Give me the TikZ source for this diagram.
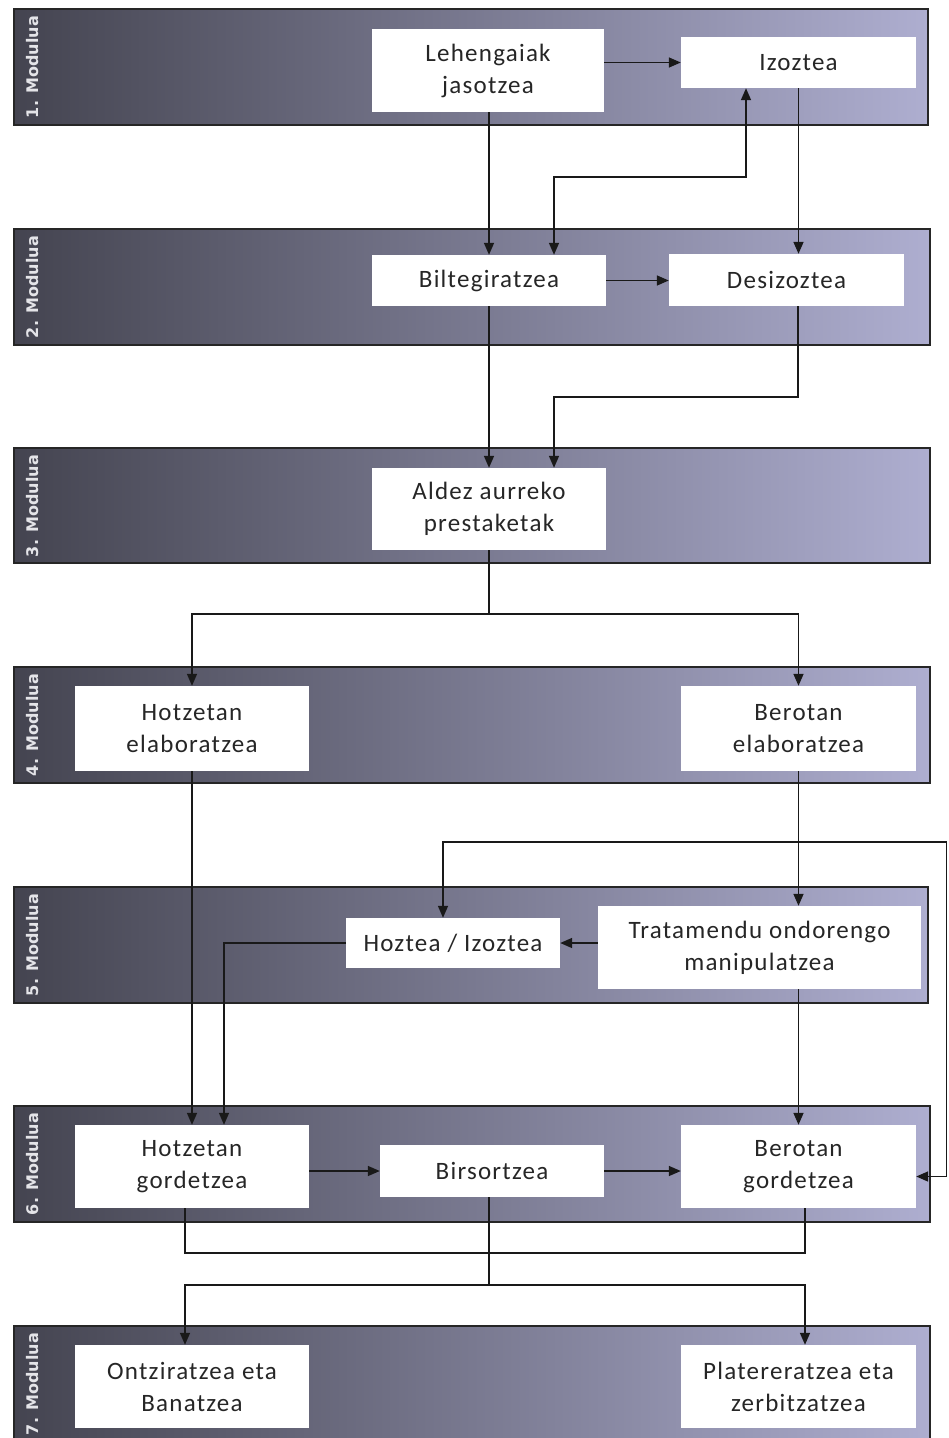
\documentclass[tikz,border=0pt]{standalone}
\usepackage{fontspec}
\setmainfont[LetterSpace=5]{Carlito}
\newfontfamily\modfont{DejaVu Sans}
\usetikzlibrary{arrows.meta,calc}
\definecolor{bandL}{RGB}{68,68,80}
\definecolor{bandR}{RGB}{174,174,208}
\definecolor{txt}{RGB}{38,38,38}
\definecolor{modtxt}{RGB}{228,228,232}
\tikzset{
  band/.style={left color=bandL,right color=bandR,draw=black!85,line width=1.2pt},
  box/.style={fill=white,inner sep=0pt,text=txt,font=\fontsize{25}{32}\selectfont,align=center},
  modlabel/.style={rotate=90,text=modtxt,font=\modfont\bfseries\fontsize{16}{18}\selectfont,inner sep=0pt},
  conn/.style={line width=1.6pt,draw=black!90},
  tip/.style={},
  arr/.style={conn,-{Triangle[length=12pt,width=10pt]}},
  darr/.style={conn,{Triangle[length=12pt,width=10pt]}-{Triangle[length=12pt,width=10pt]}}
}
\begin{document}
\begin{tikzpicture}[x=1pt,y=-1pt]
\useasboundingbox (0,0) rectangle (949,1438);
\fill[white] (0,0) rectangle (949,1438);
% bands
\draw[band] (14,9) rectangle (928,125);
\draw[band] (14,229) rectangle (930,345);
\draw[band] (14,448) rectangle (930,563);
\draw[band] (14,667) rectangle (930,783);
\draw[band] (14,887) rectangle (928,1003);
\draw[band] (14,1106) rectangle (930,1222);
\draw[band] (14,1326) rectangle (930,1450);
% module labels
\node[modlabel] (m1) at (33,67) {1. Modulua};
\node[modlabel] (m2) at (33,287) {2. Modulua};
\node[modlabel] (m3) at (33,506) {3. Modulua};
\node[modlabel] (m4) at (33,725) {4. Modulua};
\node[modlabel] (m5) at (33,945) {5. Modulua};
\node[modlabel] (m6) at (33,1164) {6. Modulua};
\node[modlabel] (m7) at (33,1384) {7. Modulua};
% boxes
\node[box,minimum width=232pt,minimum height=83pt] (n1) at (488,70.5) {Lehengaiak\\jasotzea};
\node[box,minimum width=235pt,minimum height=51pt] (n2) at (798.5,62.5) {Izoztea};
\node[box,minimum width=234pt,minimum height=51pt] (n3) at (489,280.5) {Biltegiratzea};
\node[box,minimum width=235pt,minimum height=52pt] (n4) at (786.5,280) {Desizoztea};
\node[box,minimum width=234pt,minimum height=82pt] (n5) at (489,509) {Aldez aurreko\\prestaketak};
\node[box,minimum width=234pt,minimum height=85pt] (n6) at (192,728.5) {Hotzetan\\elaboratzea};
\node[box,minimum width=235pt,minimum height=85pt] (n7) at (798.5,728.5) {Berotan\\elaboratzea};
\node[box,minimum width=214pt,minimum height=50pt] (n8) at (453,943) {Hoztea / Izoztea};
\node[box,minimum width=323pt,minimum height=83pt] (n9) at (759.5,947.5) {Tratamendu ondorengo\\manipulatzea};
\node[box,minimum width=234pt,minimum height=83pt] (n10) at (192,1166.5) {Hotzetan\\gordetzea};
\node[box,minimum width=224pt,minimum height=52pt] (n11) at (492,1171) {Birsortzea};
\node[box,minimum width=235pt,minimum height=83pt] (n12) at (798.5,1166.5) {Berotan\\gordetzea};
\node[box,minimum width=234pt,minimum height=83pt] (n13) at (192,1386.5) {Ontziratzea eta\\Banatzea};
\node[box,minimum width=235pt,minimum height=83pt] (n14) at (798.5,1386.5) {Platereratzea eta\\zerbitzatzea};
% bend coordinates
\coordinate (b1) at (554,177);
\coordinate (b2) at (554,397);
\coordinate (b3) at (489,614);
\coordinate (b4) at (443,842);
\coordinate (b5) at (946.5,842);
\coordinate (b7) at (0,1253);
\coordinate (b8) at (489,1285);
% connectors
\draw[arr] (n1.east |- n2.west) -- (n2.west);
\draw[arr] ([xshift=1pt]n1.south) -- ([xshift=1pt]n1.south |- n3.north);
\draw[arr] (n2.south) -- (n2.south |- n4.north);
\draw[darr] ([xshift=-52.5pt]n2.south) |- (b1) -- (b1 |- n3.north);
\draw[arr] (n3.east) -- (n3.east -| n4.west);
\draw[arr] (n3.south) -- (n5.north);
\draw[arr] ([xshift=11.5pt]n4.south) |- (b2) -- (b2 |- n5.north);
\draw[conn] (n5.south) -- (b3);
\draw[arr] (b3) -| (n6.north);
\draw[arr] (b3) -| (n7.north);
\draw[arr] (n6.south) -- (n10.north);
\draw[arr] (n7.south) -- (n7.south |- n9.north);
\draw[darr] (b4 |- n8.north) -- (b4) -- (b5) |- ([yshift=-10pt]n12.east);
\draw[arr] (n9.west |- n8.east) -- (n8.east);
\draw[arr] (n8.west) -| ([xshift=32pt]n10.north);
\draw[arr] (n12.north |- n9.south) -- (n12.north);
\draw[arr] (n10.east |- n11.west) -- (n11.west);
\draw[arr] (n11.east) -- (n11.east -| n12.west);
\draw[conn] ([xshift=-7pt]n10.south) -- ([xshift=-7pt]n10.south |- b7) -- ([xshift=6.5pt]n12.south |- b7) -- ([xshift=6.5pt]n12.south);
\draw[conn] (b8 |- n11.south) -- (b8);
\draw[arr] (b8) -| ([xshift=-7pt]n13.north);
\draw[arr] (b8) -| ([xshift=6.5pt]n14.north);
\end{tikzpicture}
\end{document}
